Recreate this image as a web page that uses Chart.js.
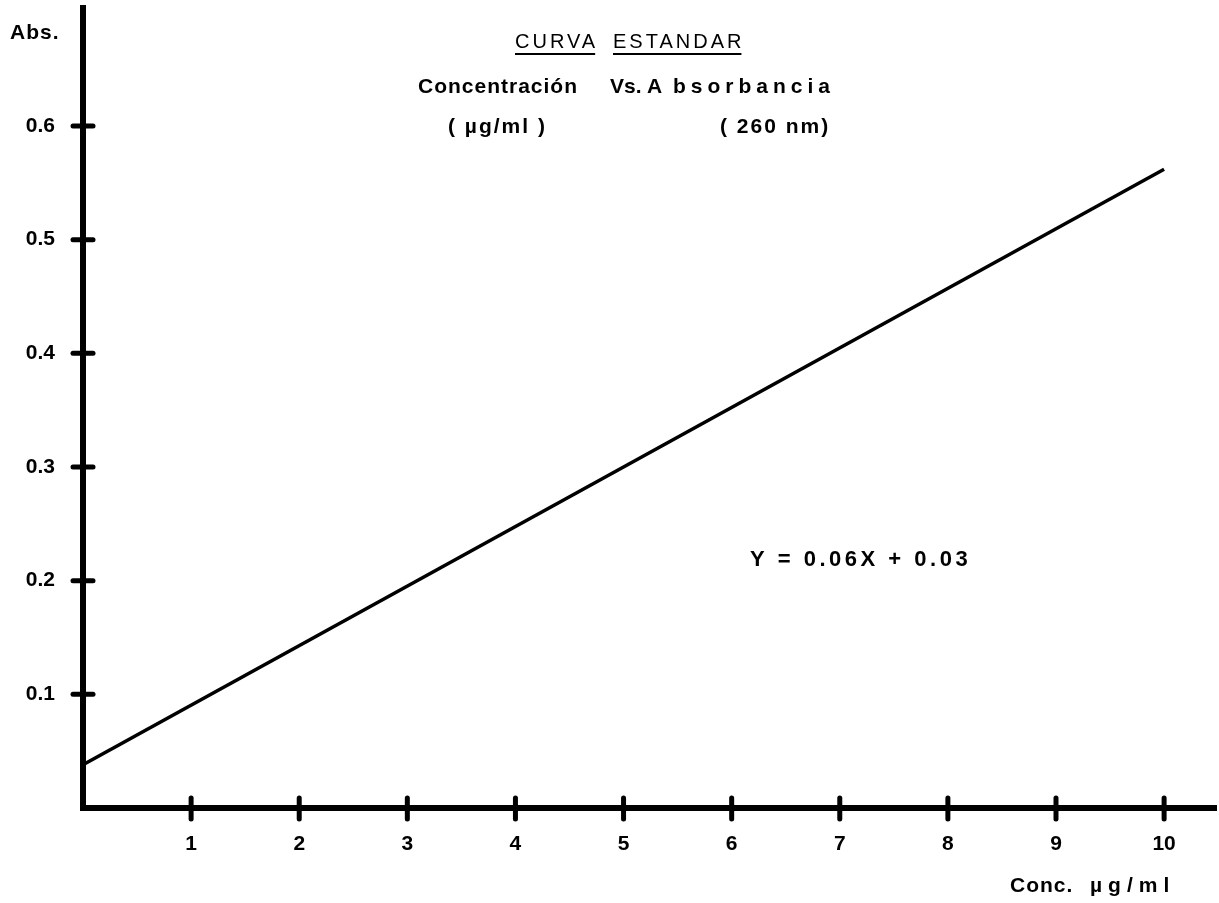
<!DOCTYPE html>
<html>
<head>
<meta charset="utf-8">
<title>Curva estándar</title>
<script src="https://cdn.jsdelivr.net/npm/chart.js@4.4.1/dist/chart.umd.min.js"></script>
<style>
  html, body { margin: 0; padding: 0; background: #fff; }
  canvas { display: block; }
</style>
</head>
<body>
<canvas id="curve" width="1219" height="903"></canvas>
<script>
// Standard curve: concentration (µg/ml) vs. absorbance at 260 nm
const concentration = [0, 10];
const absorbance = [0.038, 0.562];
const xTickValues = [1, 2, 3, 4, 5, 6, 7, 8, 9, 10];
const yTickValues = [0.1, 0.2, 0.3, 0.4, 0.5, 0.6];

const FONT = "'Liberation Sans', Arial, sans-serif";

// Cross-shaped tick marks straddling each axis
const crossTicks = {
  id: 'crossTicks',
  afterDraw(chart) {
    const { ctx, chartArea, scales: { x, y } } = chart;
    ctx.save();
    ctx.strokeStyle = '#000';
    ctx.lineWidth = 5;
    ctx.lineCap = 'round';
    xTickValues.forEach(v => {
      const px = x.getPixelForValue(v);
      ctx.beginPath();
      ctx.moveTo(px, chartArea.bottom - 10);
      ctx.lineTo(px, chartArea.bottom + 11);
      ctx.stroke();
    });
    yTickValues.forEach(v => {
      const py = y.getPixelForValue(v);
      ctx.beginPath();
      ctx.moveTo(chartArea.left - 10, py);
      ctx.lineTo(chartArea.left + 10, py);
      ctx.stroke();
    });
    ctx.restore();
  }
};

// Free-standing captions: heading, subtitles, equation and axis names
const captions = {
  id: 'captions',
  afterDraw(chart) {
    const ctx = chart.ctx;
    const put = (text, x, y, size, weight, spacing) => {
      ctx.font = `${weight} ${size}px ${FONT}`;
      ctx.letterSpacing = spacing + 'px';
      ctx.fillText(text, x, y);
      return ctx.measureText(text).width - spacing;
    };
    ctx.save();
    ctx.fillStyle = '#000';
    ctx.strokeStyle = '#000';
    ctx.textBaseline = 'middle';
    ctx.textAlign = 'left';

    // heading, each word underlined
    ctx.lineWidth = 2;
    [['CURVA', 515], ['ESTANDAR', 613]].forEach(([word, x0]) => {
      const w = put(word, x0, 42, 20, '500', 3);
      ctx.beginPath();
      ctx.moveTo(x0, 54);
      ctx.lineTo(x0 + w, 54);
      ctx.stroke();
    });

    put('Concentración', 418, 87, 21, 'bold', 1);
    put('Vs.', 610, 87, 21, 'bold', 0);
    put('A', 647, 87, 21, 'bold', 0);
    put('bsorbancia', 673, 87, 21, 'bold', 5);
    put('( µg/ml )', 448, 127, 21, 'bold', 2);
    put('( 260 nm)', 720, 127, 21, 'bold', 2);

    put('Y = 0.06X + 0.03', 750, 560, 22, 'bold', 3.5);

    put('Abs.', 10, 33, 21, 'bold', 1);
    put('Conc.', 1010, 886, 21, 'bold', 1);
    put('µg/ml', 1090, 886, 21, 'bold', 6);
    ctx.restore();
  }
};

new Chart(document.getElementById('curve'), {
  type: 'scatter',
  data: {
    datasets: [{
      data: concentration.map((c, i) => ({ x: c, y: absorbance[i] })),
      showLine: true,
      borderColor: '#000',
      borderWidth: 3.5,
      pointRadius: 0,
      pointHoverRadius: 0,
      fill: false
    }]
  },
  options: {
    responsive: false,
    animation: false,
    events: [],
    layout: { padding: { top: 8, right: 3, left: 0, bottom: 0 } },
    plugins: { legend: { display: false }, tooltip: { enabled: false }, title: { display: false } },
    scales: {
      x: {
        type: 'linear',
        min: 0,
        max: 10.48,
        afterBuildTicks: s => { s.ticks = xTickValues.map(v => ({ value: v })); },
        afterFit: s => { s.height = 95; s.paddingLeft = 0; s.paddingRight = 0; },
        grid: { display: false },
        border: { display: true, color: '#000', width: 6 },
        ticks: {
          autoSkip: false,
          maxRotation: 0,
          padding: 16,
          color: '#000',
          font: { family: FONT, size: 21, weight: 'bold' },
          callback: v => String(v)
        }
      },
      y: {
        type: 'linear',
        min: 0,
        max: 0.7038,
        afterBuildTicks: s => { s.ticks = yTickValues.map(v => ({ value: v })); },
        afterFit: s => { s.width = 83; s.paddingTop = 0; s.paddingBottom = 0; },
        grid: { display: false },
        border: { display: true, color: '#000', width: 6 },
        ticks: {
          padding: 20,
          color: '#000',
          font: { family: FONT, size: 21, weight: 'bold' },
          callback: v => v.toFixed(1)
        }
      }
    }
  },
  plugins: [crossTicks, captions]
});
</script>
</body>
</html>
